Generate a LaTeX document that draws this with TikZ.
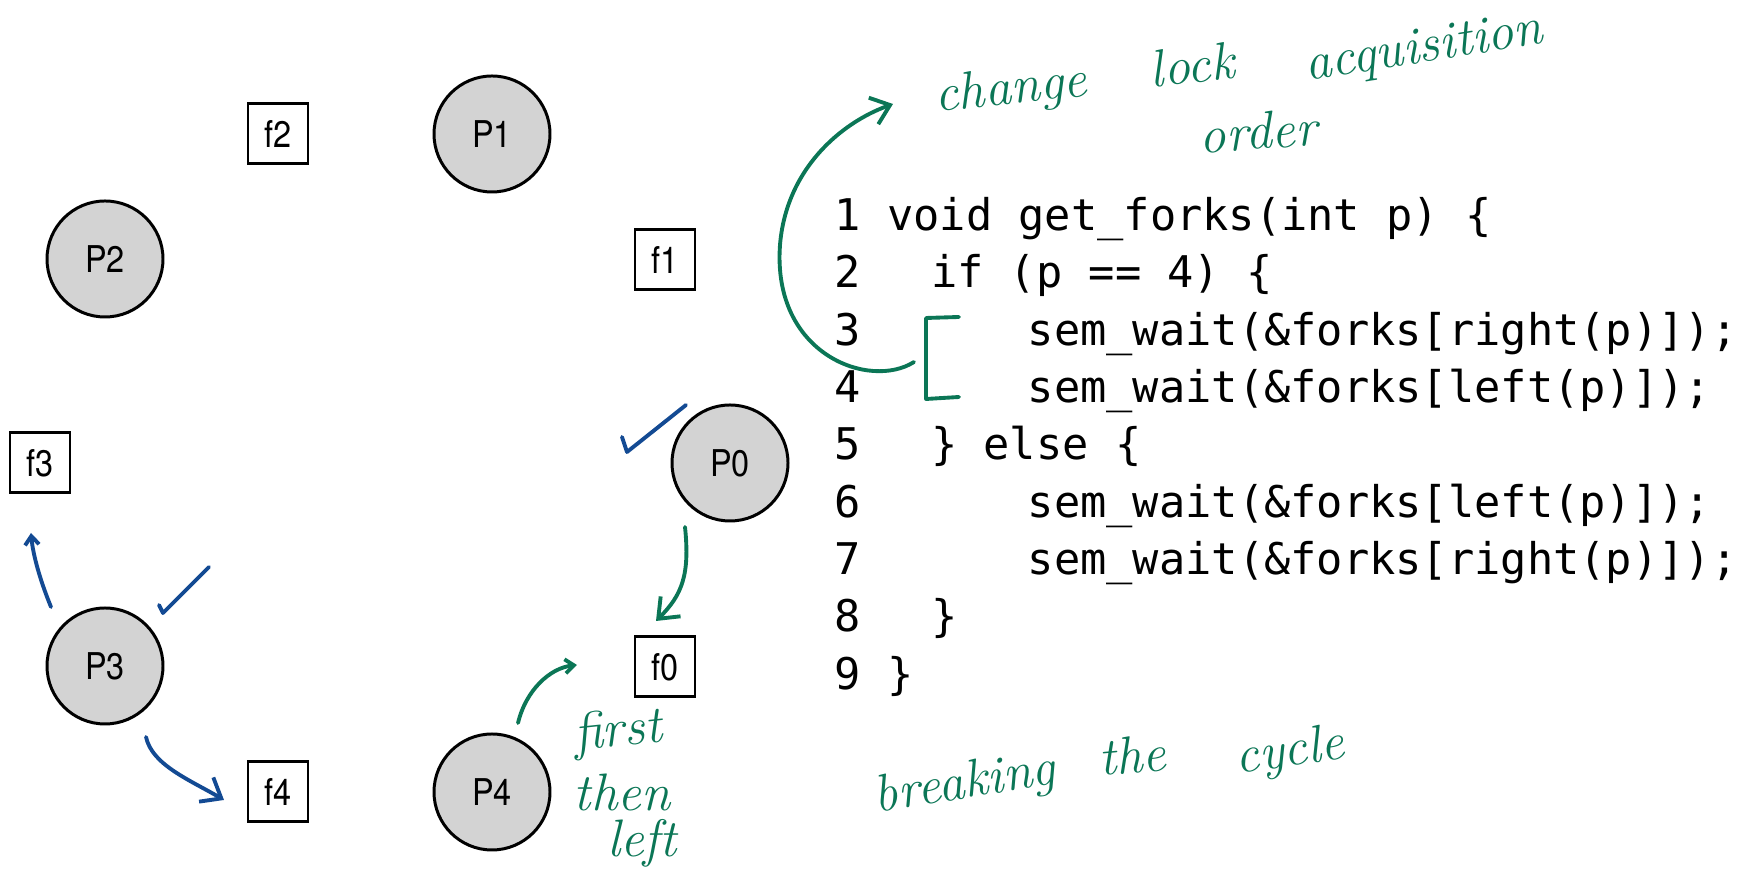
\documentclass[tikz,border=0pt]{standalone}
\usepackage{fontspec}
\newfontfamily\codefont{DejaVu Sans Mono}
\newfontfamily\labelfont[FakeStretch=0.88]{TeX Gyre Heros}
\definecolor{NOTEgreen}{HTML}{0B7656}
\definecolor{NOTEblue}{HTML}{134A93}
\definecolor{PHILgray}{HTML}{D3D3D3}
\usetikzlibrary{arrows.meta}

\begin{document}
\begin{tikzpicture}[
      philo/.style={circle, draw, line width=0.85pt, fill=PHILgray, minimum size=1.16cm,
         inner sep=0pt, font=\labelfont\fontsize{10.5}{12}\selectfont},
      fork/.style={rectangle, draw, line width=0.85pt, minimum size=0.6cm,
         inner sep=0pt, font=\labelfont\fontsize{10.5}{12}\selectfont},
      codeline/.style={anchor=base west, inner sep=0pt,
         font=\codefont\fontsize{12.42}{16}\selectfont},
      note/.style={NOTEgreen, inner sep=0pt, font=\fontsize{15}{16}\selectfont\itshape},
      ink/.style={line width=1.1pt, line cap=round, line join=round},
      inktip/.style={-{Straight Barb[length=5pt, width=8pt]}},
      hooktip/.style={-{Straight Barb[length=2.5pt, width=4pt]}}
   ]
      \useasboundingbox (0,0) rectangle (17.37,8.75);
      % Philosophers
      \node[philo] (P0) at (7.30,4.12) {P0};
      \node[philo] (P1) at (4.92,7.41) {P1};
      \node[philo] (P2) at (1.05,6.16) {P2};
      \node[philo] (P3) at (1.05,2.09) {P3};
      \node[philo] (P4) at (4.92,0.83) {P4};
      % Forks
      \node[fork] (f0) at (6.65,2.08) {f0};
      \node[fork] (f1) at (6.65,6.15) {f1};
      \node[fork] (f2) at (2.78,7.41) {f2};
      \node[fork] (f3) at (0.40,4.12) {f3};
      \node[fork] (f4) at (2.78,0.83) {f4};
      % Code
      \node[codeline] (code1) at (8.34,6.443) {1~void~get\_forks(int~p)~\{};
      \node[codeline] (code2) at (8.34,5.870) {2~~\hspace{5pt}if~(p~==~4)~\{};
      \node[codeline] (code3) at (8.34,5.297) {3~~~~~~\hspace{2.6pt}sem\_wait(\&forks[right(p)]);};
      \node[codeline] (code4) at (8.34,4.724) {4~~~~~~\hspace{2.6pt}sem\_wait(\&forks[left(p)]);};
      \node[codeline] (code5) at (8.34,4.151) {5~~\hspace{5pt}\}~else~\{};
      \node[codeline] (code6) at (8.34,3.578) {6~~~~~~\hspace{2.6pt}sem\_wait(\&forks[left(p)]);};
      \node[codeline] (code7) at (8.34,3.005) {7~~~~~~\hspace{2.6pt}sem\_wait(\&forks[right(p)]);};
      \node[codeline] (code8) at (8.34,2.432) {8~~\hspace{5pt}\}};
      \node[codeline] (code9) at (8.34,1.859) {9~\}};
      % Handwritten notes (green)
      \node[note, rotate=6] (change) at (10.11,7.84) {change};
      \node[note, rotate=6] (lock) at (11.92,8.10) {lock};
      \node[note, rotate=9] (acq) at (14.24,8.25) {acquisition};
      \node[note, rotate=4] (order) at (12.58,7.44) {order};
      \node[note, rotate=6] (first) at (6.18,1.42) {first};
      \node[note] (then) at (6.22,0.83) {then};
      \node[note] (left) at (6.42,0.32) {left};
      \node[note, rotate=9] (breaking) at (9.65,0.90) {breaking};
      \node[note, rotate=5] (the) at (11.32,1.20) {the};
      \node[note, rotate=8] (cycle) at (12.90,1.22) {cycle};
      % Bracket on lines 3--4 and arrow to the note
      \coordinate (brTop) at (9.59,5.58);
      \coordinate (brBot) at (9.59,4.78);
      \coordinate (brMid) at (9.14,5.13);
      \coordinate (noteTip) at (8.93,7.71);
      \draw[ink, NOTEgreen] (brTop) -- (9.26,5.57) -- (9.26,4.76) -- (brBot);
      \draw[ink, inktip, NOTEgreen] (brMid) .. controls (8.70,4.85) and (7.72,5.20) .. (7.80,6.30)
         .. controls (7.86,7.05) and (8.40,7.52) .. (noteTip);
      % P0 takes f0 first
      \coordinate (p0Out) at (6.85,3.48);
      \coordinate (f0In) at (6.56,2.54);
      \draw[ink, inktip, NOTEgreen] (p0Out) .. controls (6.90,3.00) and (6.82,2.80) .. (f0In);
      % P4 reaches for f0
      \coordinate (p4Out) at (5.18,1.52);
      \coordinate (f0Hook) at (5.77,2.10);
      \draw[ink, hooktip, NOTEgreen] (p4Out) .. controls (5.26,1.85) and (5.50,2.07) .. (f0Hook);
      % Blue marks
      \draw[ink, NOTEblue] (6.22,4.38) -- (6.27,4.23) -- (6.86,4.70);
      \draw[ink, NOTEblue] (1.59,2.70) -- (1.63,2.62) -- (2.09,3.08);
      \coordinate (p3Up) at (0.51,2.68);
      \coordinate (f3Hook) at (0.31,3.42);
      \draw[ink, hooktip, NOTEblue] (p3Up) .. controls (0.40,2.95) and (0.33,3.20) .. (f3Hook);
      \coordinate (p3Down) at (1.46,1.38);
      \coordinate (f4In) at (2.24,0.75);
      \draw[ink, inktip, NOTEblue] (p3Down) .. controls (1.52,1.10) and (1.90,0.95) .. (f4In);
   \end{tikzpicture}
\end{document}
